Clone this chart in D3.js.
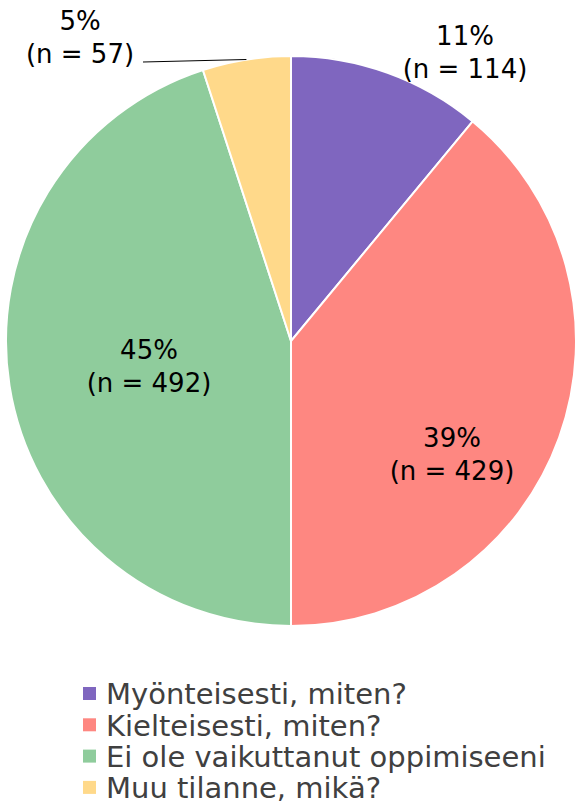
<!DOCTYPE html>
<html>
<head>
<meta charset="utf-8">
<script src="https://cdn.jsdelivr.net/npm/d3@7"></script>
<style>
  body { margin: 0; background: #fff; }
  text { font-family: "DejaVu Sans", Verdana, sans-serif; }
</style>
</head>
<body>
<div id="chart"></div>
<script>
// data
const categories = [
  "Myönteisesti, miten?",
  "Kielteisesti, miten?",
  "Ei ole vaikuttanut oppimiseeni",
  "Muu tilanne, mikä?"
];
const percents = [11, 39, 45, 5];
const counts = [114, 429, 492, 57];
const colors = ["#7f66bf", "#fe8781", "#8fcc9c", "#ffd98a"];

// label placement: x centre and baseline of the first line
const labelPos = [[465, 45], [452, 447], [149, 359], [80, 30]];

var width = 577;
var height = 804;
var cx = 291, cy = 341, radius = 285;

var svg = d3
  .select("#chart")
  .append("svg")
  .attr("width", width)
  .attr("height", height);

var pie = d3.pie().sort(null).value(function(d) { return d; });
var arc = d3.arc().innerRadius(0).outerRadius(radius);
var arcs = pie(percents);

var g = svg.append("g").attr("transform", "translate(" + cx + "," + cy + ")");

g.selectAll("path")
  .data(arcs)
  .enter()
  .append("path")
  .attr("d", arc)
  .style("fill", function(d, i) { return colors[i]; })
  .style("stroke", "#fff")
  .style("stroke-width", "2");

// leader line for the small slice
var edge = d3.arc().innerRadius(radius).outerRadius(radius);
var p = edge.centroid(arcs[3]);
svg.append("line")
  .attr("x1", 143)
  .attr("y1", 62)
  .attr("x2", cx + p[0])
  .attr("y2", cy + p[1])
  .style("stroke", "#000")
  .style("stroke-width", "1");

// slice labels
arcs.forEach(function(d, i) {
  var t = svg.append("text")
    .attr("text-anchor", "middle")
    .style("font-size", "26px")
    .style("fill", "#000");
  t.append("tspan")
    .attr("x", labelPos[i][0])
    .attr("y", labelPos[i][1])
    .text(percents[i] + "%");
  t.append("tspan")
    .attr("x", labelPos[i][0])
    .attr("y", labelPos[i][1] + 33)
    .text("(n = " + counts[i] + ")");
});

// legend
var legend = svg.append("g").attr("transform", "translate(83,694)");
var rows = legend.selectAll("g")
  .data(categories)
  .enter()
  .append("g")
  .attr("transform", function(d, i) { return "translate(0," + i * 31.3 + ")"; });
rows.append("rect")
  .attr("x", 0)
  .attr("y", -7)
  .attr("width", 13)
  .attr("height", 13)
  .style("fill", function(d, i) { return colors[i]; });
rows.append("text")
  .attr("x", 23)
  .attr("y", 0)
  .attr("dy", "0.36em")
  .style("font-size", "29px")
  .style("fill", "#404040")
  .text(function(d) { return d; });
</script>
</body>
</html>
